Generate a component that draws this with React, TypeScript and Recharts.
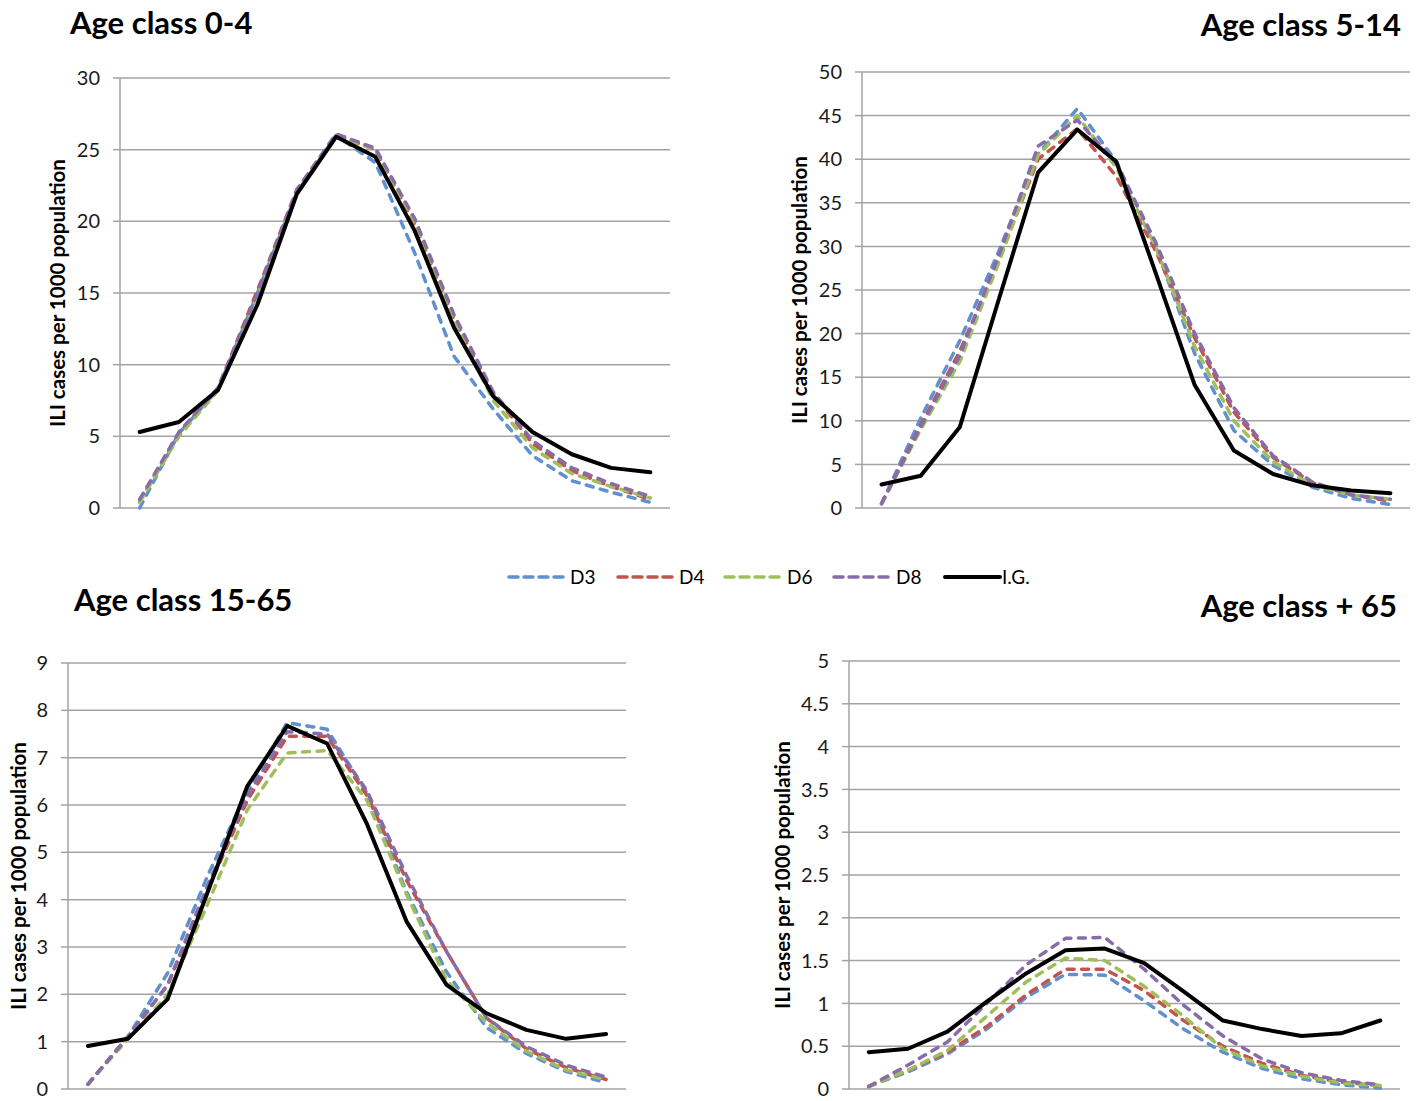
import React from 'react';
import { LineChart, Line, XAxis, YAxis, CartesianGrid } from 'recharts';

// weeks of the epidemic (x categories, no labels shown on the axis)
const weeks = ['1', '2', '3', '4', '5', '6', '7', '8', '9', '10', '11', '12', '13', '14'];

// Age class 0-4
const d3Age0 = [0.0, 5.2, 8.3, 15.0, 22.0, 26.0, 24.1, 17.8, 10.6, 6.9, 3.65, 1.9, 1.1, 0.4];
const d4Age0 = [0.5, 5.2, 8.4, 15.2, 22.2, 26.0, 25.0, 19.8, 13.2, 8.0, 4.5, 2.6, 1.5, 0.6];
const d6Age0 = [0.4, 5.0, 8.2, 14.8, 22.0, 26.0, 25.0, 20.0, 13.0, 7.5, 4.2, 2.4, 1.5, 0.7];
const d8Age0 = [0.6, 5.3, 8.4, 15.0, 22.2, 26.1, 25.1, 20.2, 13.5, 8.1, 4.7, 2.8, 1.7, 0.8];
const igAge0 = [5.3, 6.0, 8.25, 14.2, 21.9, 25.9, 24.5, 19.35, 12.6, 7.8, 5.3, 3.75, 2.8, 2.5];

// Age class 5-14
const d3Age5 = [0.5, 10.3, 19.2, 29.5, 40.6, 45.8, 39.7, 30.0, 17.7, 8.9, 4.9, 2.4, 1.1, 0.4];
const d4Age5 = [0.5, 9.5, 18.0, 28.5, 40.0, 43.5, 38.0, 29.5, 19.5, 11.0, 5.8, 2.9, 1.5, 0.8];
const d6Age5 = [0.5, 9.0, 16.8, 28.2, 40.5, 45.0, 39.0, 30.0, 18.5, 10.0, 5.3, 2.6, 1.5, 1.0];
const d8Age5 = [0.5, 9.3, 17.5, 29.0, 41.5, 44.5, 39.5, 30.5, 20.0, 11.5, 6.0, 3.0, 1.5, 1.0];
const igAge5 = [2.7, 3.7, 9.3, 24.0, 38.5, 43.4, 39.7, 27.0, 14.1, 6.6, 3.9, 2.6, 2.0, 1.7];

// Age class 15-65
const d3Age15 = [0.1, 1.1, 2.45, 4.5, 6.3, 7.74, 7.6, 6.25, 4.15, 2.47, 1.3, 0.75, 0.37, 0.13];
const d4Age15 = [0.1, 1.1, 2.2, 4.2, 6.1, 7.45, 7.45, 6.2, 4.4, 2.9, 1.5, 0.85, 0.45, 0.2];
const d6Age15 = [0.1, 1.05, 2.0, 3.9, 5.9, 7.1, 7.15, 6.1, 4.1, 2.3, 1.4, 0.8, 0.4, 0.2];
const d8Age15 = [0.1, 1.1, 2.2, 4.3, 6.2, 7.55, 7.5, 6.3, 4.5, 2.9, 1.5, 0.9, 0.5, 0.25];
const igAge15 = [0.91, 1.06, 1.9, 4.15, 6.4, 7.67, 7.3, 5.6, 3.53, 2.2, 1.6, 1.25, 1.06, 1.16];

// Age class + 65
const d3Age65 = [0.03, 0.2, 0.41, 0.7, 1.07, 1.34, 1.33, 1.03, 0.7, 0.43, 0.24, 0.12, 0.05, 0.01];
const d4Age65 = [0.03, 0.22, 0.43, 0.73, 1.1, 1.4, 1.4, 1.15, 0.8, 0.5, 0.3, 0.16, 0.08, 0.04];
const d6Age65 = [0.03, 0.22, 0.45, 0.85, 1.25, 1.53, 1.5, 1.2, 0.85, 0.47, 0.27, 0.15, 0.07, 0.04];
const d8Age65 = [0.03, 0.28, 0.55, 1.0, 1.45, 1.76, 1.77, 1.4, 0.98, 0.62, 0.35, 0.19, 0.1, 0.05];
const igAge65 = [0.43, 0.47, 0.67, 1.02, 1.35, 1.62, 1.64, 1.47, 1.14, 0.8, 0.7, 0.62, 0.65, 0.8];

const ticks0 = [0, 5, 10, 15, 20, 25, 30];
const ticks5 = [0, 5, 10, 15, 20, 25, 30, 35, 40, 45, 50];
const ticks15 = [0, 1, 2, 3, 4, 5, 6, 7, 8, 9];
const ticks65 = [0, 0.5, 1, 1.5, 2, 2.5, 3, 3.5, 4, 4.5, 5];

const GRID = '#a3a3a3';
const FONT = 'Lato, "Noto Sans", sans-serif';
const Y_LABEL = 'ILI cases per 1000 population';

const SERIES = [
  { key: 'D3', color: '#6090cd', dashed: true },
  { key: 'D4', color: '#c25450', dashed: true },
  { key: 'D6', color: '#a0bf5c', dashed: true },
  { key: 'D8', color: '#876ca9', dashed: true },
  { key: 'I.G.', color: '#000000', dashed: false },
];

const makeRows = (d3: number[], d4: number[], d6: number[], d8: number[], ig: number[]) =>
  weeks.map((w, i) => ({ week: w, D3: d3[i], D4: d4[i], D6: d6[i], D8: d8[i], 'I.G.': ig[i] }));

const rows0 = makeRows(d3Age0, d4Age0, d6Age0, d8Age0, igAge0);
const rows5 = makeRows(d3Age5, d4Age5, d6Age5, d8Age5, igAge5);
const rows15 = makeRows(d3Age15, d4Age15, d6Age15, d8Age15, igAge15);
const rows65 = makeRows(d3Age65, d4Age65, d6Age65, d8Age65, igAge65);

type PanelProps = {
  rows: any[];
  left: number;
  top: number;
  width: number;
  height: number;
  margin: { top: number; right: number; bottom: number; left: number };
  yWidth: number;
  max: number;
  ticks: number[];
  labelOffset: number;
};

const Panel = ({ rows, left, top, width, height, margin, yWidth, max, ticks, labelOffset }: PanelProps) => {
  const plotW = width - margin.left - margin.right - yWidth;
  const pad = plotW / 28;
  return (
    <div style={{ position: 'absolute', left, top }}>
      <LineChart width={width} height={height} data={rows} margin={margin}>
        <CartesianGrid vertical={false} stroke={GRID} strokeWidth={1.5} />
        <XAxis dataKey="week" hide padding={{ left: pad, right: pad }} />
        <YAxis
          width={yWidth}
          domain={[0, max]}
          ticks={ticks}
          interval={0}
          tick={{ fill: '#1a1a1a', fontSize: 20 }}
          tickSize={7}
          tickMargin={13}
          axisLine={{ stroke: GRID, strokeWidth: 1.5 }}
          tickLine={{ stroke: GRID, strokeWidth: 1.5 }}
          label={{
            value: Y_LABEL,
            angle: -90,
            position: 'insideLeft',
            offset: labelOffset,
            textAnchor: 'middle',
            style: { textAnchor: 'middle', fontWeight: 700, fontSize: 20.5, fill: '#000' },
          }}
        />
        {SERIES.map((s) => (
          <Line
            key={s.key}
            type="linear"
            dataKey={s.key}
            stroke={s.color}
            strokeWidth={s.dashed ? 3.5 : 4}
            strokeDasharray={s.dashed ? '7 7.5' : undefined}
            strokeLinecap="round"
            strokeLinejoin="round"
            dot={false}
            activeDot={false}
            isAnimationActive={false}
          />
        ))}
      </LineChart>
    </div>
  );
};

const legendItems = [
  { x1: 509, x2: 566, tx: 570 },
  { x1: 618, x2: 676, tx: 679 },
  { x1: 725, x2: 784, tx: 787 },
  { x1: 834, x2: 893, tx: 896 },
  { x1: 945, x2: 1000, tx: 1002 },
];

const App = () => {
  return (
    <div
      style={{
        position: 'absolute',
        left: 0,
        top: 0,
        width: 1417,
        height: 1101,
        background: '#fff',
        fontFamily: FONT,
        overflow: 'hidden',
      }}
    >
      <Panel
        rows={rows0}
        left={0}
        top={0}
        width={700}
        height={540}
        margin={{ top: 78, right: 30, bottom: 32, left: 0 }}
        yWidth={120}
        max={30}
        ticks={ticks0}
        labelOffset={58}
      />
      <Panel
        rows={rows5}
        left={720}
        top={0}
        width={697}
        height={540}
        margin={{ top: 72, right: 7, bottom: 32, left: 0 }}
        yWidth={142}
        max={50}
        ticks={ticks5}
        labelOffset={80}
      />
      <Panel
        rows={rows15}
        left={0}
        top={600}
        width={660}
        height={501}
        margin={{ top: 63, right: 34, bottom: 12, left: 0 }}
        yWidth={68}
        max={9}
        ticks={ticks15}
        labelOffset={19}
      />
      <Panel
        rows={rows65}
        left={720}
        top={600}
        width={697}
        height={501}
        margin={{ top: 61, right: 17, bottom: 12, left: 0 }}
        yWidth={129}
        max={5}
        ticks={ticks65}
        labelOffset={63}
      />
      <svg
        width={1417}
        height={1101}
        style={{ position: 'absolute', left: 0, top: 0, pointerEvents: 'none' }}
        fontFamily={FONT}
      >
        <g fontSize={31} fontWeight={700} fill="#000">
          <text x={70} y={34}>Age class 0-4</text>
          <text x={1401} y={36} textAnchor="end">Age class 5-14</text>
          <text x={74} y={611}>Age class 15-65</text>
          <text x={1397} y={617} textAnchor="end">Age class + 65</text>
        </g>
        {SERIES.map((s, i) => (
          <g key={s.key}>
            <line
              x1={legendItems[i].x1}
              x2={legendItems[i].x2}
              y1={577}
              y2={577}
              stroke={s.color}
              strokeWidth={s.dashed ? 3.5 : 4}
              strokeDasharray={s.dashed ? '9 6' : undefined}
              strokeLinecap="round"
            />
            <text x={legendItems[i].tx} y={584} fontSize={19} fill="#000">
              {s.key}
            </text>
          </g>
        ))}
      </svg>
    </div>
  );
};

export default App;
